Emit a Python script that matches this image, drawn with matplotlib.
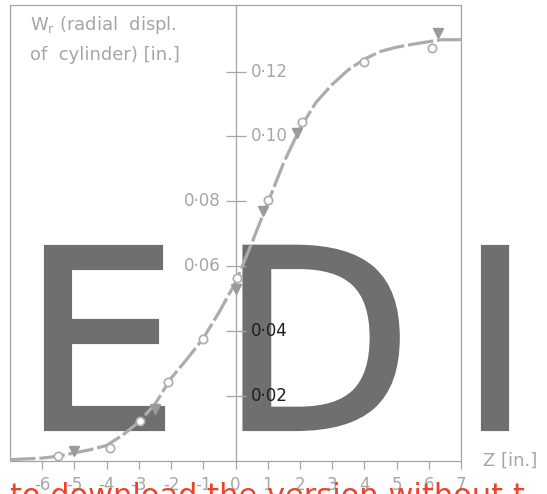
import matplotlib
matplotlib.use("Agg")
import matplotlib.pyplot as plt
import matplotlib.patheffects as pe
from matplotlib.patches import Rectangle

# curve (Z in inches, W_r in inches)
curve_z = [-7.0, -6.0, -5.5, -5.0, -4.5, -4.0, -3.5, -3.0, -2.5, -2.0, -1.5, -1.0,
           -0.5, 0.0, 0.5, 1.0, 1.5, 2.0, 2.5, 3.0, 3.5, 4.0, 4.5, 5.0, 5.5, 6.0,
           6.4, 7.0]
curve_w = [0.0004, 0.0009, 0.0015, 0.0025, 0.0035, 0.0048, 0.0080, 0.0120, 0.0175,
           0.0255, 0.0315, 0.0378, 0.0460, 0.0550, 0.0670, 0.0795, 0.0920, 0.1025,
           0.1105, 0.1160, 0.1205, 0.1238, 0.1262, 0.1275, 0.1284, 0.1292,
           0.1298, 0.1298]

# measured points: open circles and filled triangles
circle_z = [-5.5, -3.9, -2.95, -2.1, -1.0, 0.06, 1.0, 2.05, 4.0, 6.1]
circle_w = [0.0015, 0.0040, 0.0124, 0.0243, 0.0375, 0.0563, 0.0803, 0.1046, 0.1228, 0.1274]
tri_z = [-5.0, -2.5, 0.0, 0.84, 1.9, 6.3]
tri_w = [0.0030, 0.0160, 0.0530, 0.0770, 0.1010, 0.1320]

xticks = [-6, -5, -4, -3, -2, -1, 0, 1, 2, 3, 4, 5, 6, 7]
xtick_labels = ["-6", "-5", "-4", "-3", "-2", "-1", "0", "1", "2", "3", "4", "5", "6", "7"]
yticks = [0.02, 0.04, 0.06, 0.08, 0.10, 0.12]
ytick_labels = ["0·02", "0·04", "0·06", "0·08", "0·10", "0·12"]
ytick_side = ["right", "right", "left", "left", "right", "right"]

gray = "#a6a6a6"
line_gray = "#acacac"
wm_gray = "#6f6f6f"

fig = plt.figure(figsize=(5.47, 4.94), dpi=100)
ax = fig.add_axes([10 / 547, 1 - 461 / 494, 451 / 547, 456 / 494])
ax.set_xlim(-7, 7)
ax.set_ylim(0, 0.1405)

# watermark letters (behind the data)
for letter, xpix in [("E", 21), ("D", 220), ("I", 458)]:
    ax.text(xpix / 547, 1 - 429 / 494, letter, transform=fig.transFigure,
            ha="left", va="baseline", fontsize=180, color=wm_gray,
            zorder=0.5, clip_on=False,
            path_effects=[pe.withStroke(linewidth=3, foreground=wm_gray,
                                        joinstyle="miter")])

# frame and central axis
for s in ["top", "right", "bottom"]:
    ax.spines[s].set_visible(False)
ax.spines["left"].set_position(("data", 0))
ax.spines["left"].set_color(gray)
ax.spines["left"].set_linewidth(0.9)
ax.add_patch(Rectangle((0, 0), 1, 1, transform=ax.transAxes, fill=False,
                       ec=gray, lw=0.9, clip_on=False, zorder=1))

# curve and markers
ax.plot(curve_z, curve_w, color=line_gray, lw=2.3, dashes=(8, 1.2),
        solid_capstyle="butt", zorder=2)
ax.plot(circle_z, circle_w, "o", ms=6, mfc="white", mec=line_gray, mew=1.2,
        zorder=3)
ax.plot(tri_z, tri_w, "v", ms=6.5, color="#9a9a9a", zorder=3)

# y ticks across the central axis, labels on either side
ax.set_yticks(yticks)
ax.tick_params(axis="y", direction="inout", length=14, width=0.9, color=gray,
               labelleft=False)
for val, lab, side in zip(yticks, ytick_labels, ytick_side):
    off = 11 if side == "right" else -11
    ha = "left" if side == "right" else "right"
    col = "#1e1e1e" if val < 0.05 else gray
    ax.annotate(lab, xy=(0, val), xytext=(off, 0), textcoords="offset points",
                ha=ha, va="center", fontsize=12, color=col, zorder=4)

# x ticks under the frame
ax.set_xticks(xticks, labels=xtick_labels)
ax.tick_params(axis="x", direction="out", length=6, width=0.9, color=gray,
               pad=5, labelsize=12, labelcolor=gray)

fig.text(30 / 547, 1 - 14 / 494, "W$_\\mathregular{r}$ (radial  displ.\nof  cylinder) [in.]",
         ha="left", va="top", fontsize=13, color=gray, linespacing=1.75)
fig.text(483 / 547, 1 - 461 / 494, "Z [in.]", ha="left", va="center",
         fontsize=13, color=gray)

# cut-off red banner at the bottom
fig.text(10 / 547, 1 - 505 / 494, "to download the version without t",
         ha="left", va="baseline", fontsize=22, color="#ec432c")

fig.savefig("out.png", dpi=100)
